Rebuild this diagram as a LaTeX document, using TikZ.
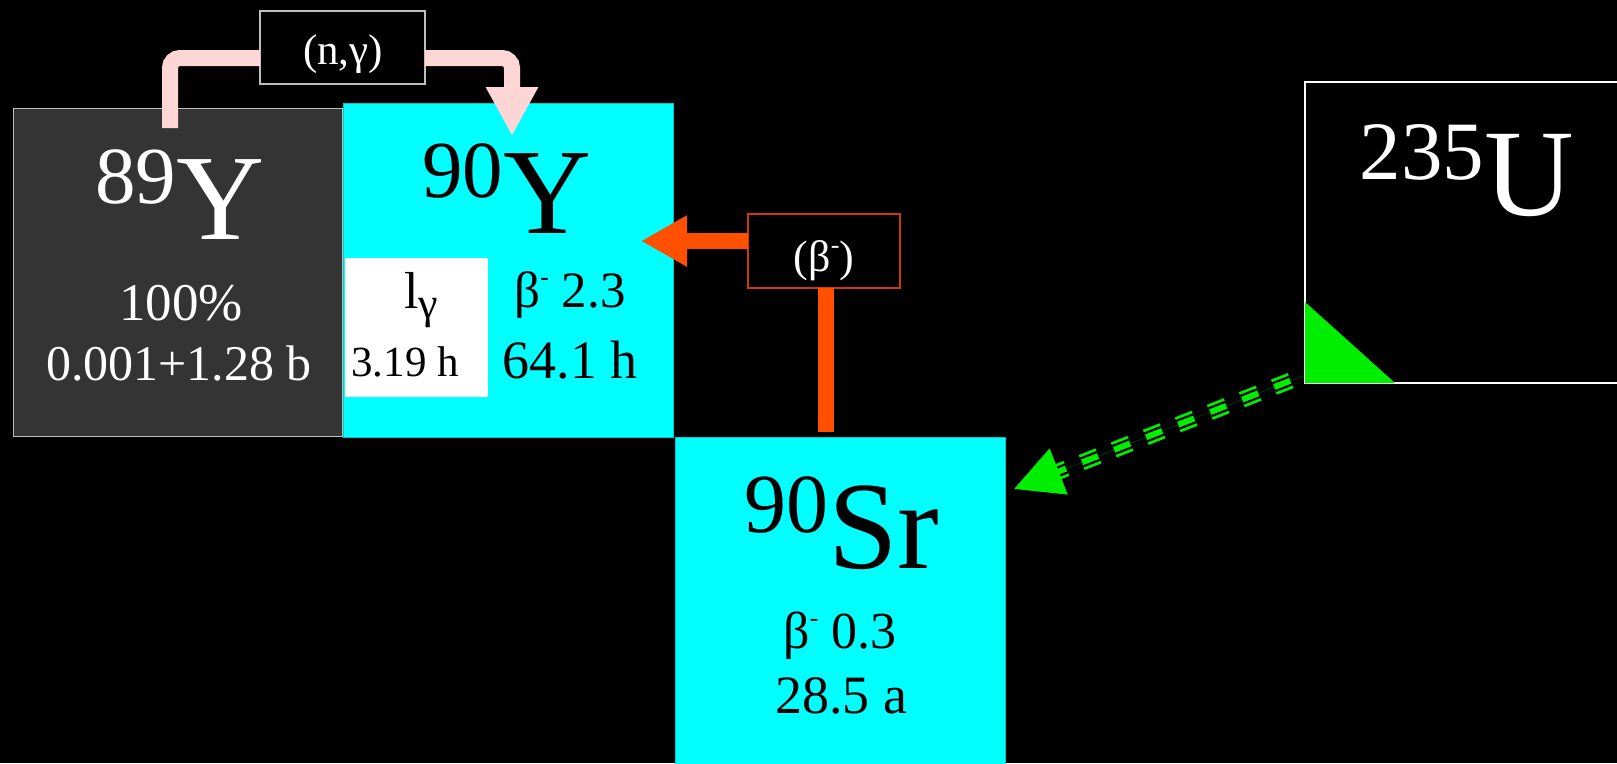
\documentclass[tikz,border=0pt]{standalone}
\usepackage{fontspec}
\setmainfont{Liberation Serif}
\usetikzlibrary{arrows.meta,calc}
\definecolor{boxgrey}{RGB}{52,52,52}
\definecolor{edgegrey}{RGB}{190,190,190}
\definecolor{nuccyan}{RGB}{0,255,255}
\definecolor{cyanedge}{RGB}{0,200,200}
\definecolor{pinkarrow}{RGB}{255,214,214}
\definecolor{betaorange}{RGB}{255,80,0}
\definecolor{betaedge}{RGB}{200,60,0}
\definecolor{fissgreen}{RGB}{0,238,0}
\newcommand\fs[1]{\fontsize{#1}{#1}\selectfont}
\newcommand\nucl[4]{{\fs{#3}\raisebox{36pt}{#1}}{\fs{#4}#2}}
\newcommand\bminus[1]{\raisebox{#1}{\fs{26}-}}
\tikzset{
  nucbox/.style={rectangle, inner sep=0pt, outer sep=0pt, anchor=north west},
  txt/.style={inner sep=0pt, outer sep=0pt, anchor=base},
  pinkline/.style={draw=pinkarrow, line width=16pt, rounded corners=10pt},
  orangeline/.style={draw=betaorange, line width=16pt},
  greendbl/.style={draw=fissgreen, line width=2.8pt, double=black, double distance=10.5pt, dash pattern=on 18pt off 16.4pt, dash phase=19pt},
  greenmid/.style={draw=fissgreen, fill=fissgreen, line width=6pt, dash pattern=on 17pt off 17.4pt, dash phase=18.5pt}
}
\begin{document}
\begin{tikzpicture}[x=1pt,y=-1pt]
\useasboundingbox (0,0) rectangle (1617,763);
\clip (0,0) rectangle (1617,763);
\fill[black] (0,0) rectangle (1617,763);

% nuclide boxes
\node[nucbox, fill=boxgrey, draw=edgegrey, line width=1pt, minimum width=329pt, minimum height=328pt] (Y89) at (13,108) {};
\node[nucbox, fill=nuccyan, draw=cyanedge, line width=0.8pt, minimum width=330pt, minimum height=334pt] (Y90) at (343,103) {};
\node[nucbox, fill=nuccyan, draw=cyanedge, line width=0.8pt, minimum width=330pt, minimum height=340pt] (Sr90) at (675,437) {};
\node[nucbox, fill=black, draw=white, line width=1.5pt, minimum width=330pt, minimum height=301pt] (U235) at (1305,82) {};
\node[nucbox, fill=white, minimum width=143pt, minimum height=139pt] (iso) at (345,258) {};
\fill[fissgreen] (U235.south west) -- ($(U235.south west)+(0,-81)$) -- ($(U235.south west)+(90,0)$) -- cycle;

% reaction label boxes
\node[nucbox, fill=black, draw=edgegrey, line width=1.2pt, minimum width=165pt, minimum height=73pt] (ng) at (260,11) {};
\node[nucbox, fill=black, draw=betaedge, line width=1.2pt, minimum width=152pt, minimum height=74pt] (bt) at (748,214) {};

% connector points
\coordinate (p1) at ($(Y89.north west)+(157,20)$);
\coordinate (p2) at ($(Y90.north west)+(169,33)$);
\coordinate (p3) at ($(Sr90.north west)+(151,-5)$);
\coordinate (p4) at ($(Y90.north east)+(-32,138)$);
\coordinate (g1) at ($(U235.south west)+(0,-8)$);
\coordinate (g2) at ($(Sr90.north east)+(9,52)$);

% (n,gamma)
\draw[pinkline] (p1) |- ([yshift=-10.5pt]ng.west);
\draw[pinkline, -{Triangle[length=49pt,width=49pt]}] ([yshift=-10.5pt]ng.east) -| (p2);
% beta-
\draw[orangeline] (p3) -- (p3 |- bt.south);
\draw[orangeline, -{Triangle[length=46pt,width=48pt]}] ([yshift=10pt]bt.west) -- (p4);
% fission
\draw[greendbl, shorten >=42pt] (g1) -- (g2);
\draw[greenmid, -{Triangle[length=48pt,width=48pt]}] (g1) -- (g2);

% texts
\node[txt, text=white] (t89) at (180,239) {\nucl{89}{Y}{81}{122}};
\node[txt, text=white] (t89a) at (181,320) {\fs{53}100\%};
\node[txt, text=white] (t89b) at (179,380) {\fs{50}0.001+1.28 b};

\node[txt, text=black] (t90) at (507,233) {\nucl{90}{Y}{81}{122}};
\node[txt, text=black] (t90i) at (421,308) {\fs{52}l\raisebox{-10pt}{\fs{44}γ}};
\node[txt, text=black] (t90h) at (405,376) {\fs{43}3.19 h};
\node[txt, text=black] (t90a) at (570,307) {\fs{51}β\bminus{22pt} 2.3};
\node[txt, text=black] (t90b) at (570,378) {\fs{54}64.1 h};

\node[txt, text=black] (tsr) at (842,568) {\nucl{90}{Sr}{84}{125}};
\node[txt, text=black] (tsra) at (840,648) {\fs{52}β\bminus{22pt} 0.3};
\node[txt, text=black] (tsrb) at (841,713) {\fs{54}28.5 a};

\node[txt, text=white] (tu) at (1467,215) {\nucl{235}{U}{83}{124}};

\node[txt, text=white] (tng) at (343,64) {\fs{43}(n,γ)};
\node[txt, text=white] (tbt) at (824,271) {\fs{44}(β\bminus{18pt})};
\end{tikzpicture}
\end{document}
